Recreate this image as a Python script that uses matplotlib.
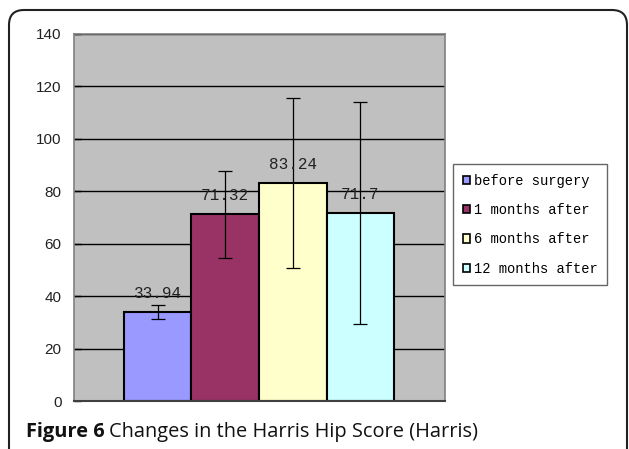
import matplotlib.pyplot as plt
from matplotlib.patches import FancyBboxPatch, Patch

# data
groups = ['before surgery', '1 months after', '6 months after', '12 months after']
means = [33.94, 71.32, 83.24, 71.7]
errors = [2.8, 16.6, 32.4, 42.4]
labels = ['33.94', '71.32', '83.24', '71.7']
colors = ['#9999FF', '#993366', '#FFFFCC', '#CCFFFF']
yticks = [0, 20, 40, 60, 80, 100, 120, 140]

fig = plt.figure(figsize=(6.29, 4.49), dpi=100)
ax = fig.add_axes([0.1176, 0.1069, 0.590, 0.8174])
ax.set_facecolor('#C0C0C0')

xs = range(len(groups))
ax.set_axisbelow(True)
ax.bar(xs, means, width=1.0, color=colors, edgecolor='black', linewidth=1.5, zorder=2)
ax.errorbar(xs, means, yerr=errors, fmt='none', ecolor='black', elinewidth=0.9,
            capsize=5, capthick=0.9, zorder=3)

for x, m, lab in zip(xs, means, labels):
    ax.text(x, m + 4.2, lab, ha='center', va='bottom', family='Liberation Mono',
            fontsize=11.5, color='#222222', zorder=4)

ax.set_xlim(-1.24, 4.255)
ax.set_ylim(0, 140)
ax.set_yticks(yticks)
ax.set_xticks([])
ax.yaxis.grid(True, color='black', linewidth=1.0)
ax.tick_params(axis='y', direction='in', length=5, width=1, pad=9, labelsize=11,
               labelcolor='#222222')
for t in ax.get_yticklabels():
    t.set_family('Liberation Sans')
for s in ['top', 'right', 'left']:
    ax.spines[s].set_color('#808080')
    ax.spines[s].set_linewidth(1.2)
ax.spines['bottom'].set_color('#404040')
ax.spines['bottom'].set_linewidth(1.5)

handles = [Patch(facecolor=c, edgecolor='black', linewidth=1.2) for c in colors]
leg = fig.legend(handles, groups, loc='upper left', bbox_to_anchor=(0.720, 0.635),
                 prop={'family': 'Liberation Mono', 'size': 9.9}, frameon=True,
                 fancybox=False, edgecolor='#404040', handlelength=0.55,
                 handleheight=0.55, handletextpad=0.25, labelspacing=1.12,
                 borderpad=0.7, borderaxespad=0)
leg.get_frame().set_linewidth(1.0)

# rounded outer frame
frame = FancyBboxPatch((0.09, -0.3), 6.18, 4.69,
                       boxstyle='round,pad=0,rounding_size=0.15',
                       transform=fig.dpi_scale_trans, facecolor='none',
                       edgecolor='#222222', linewidth=1.5)
fig.patches.append(frame)

# caption
t1 = fig.text(0.26 / 6.29, 0.027, 'Figure 6', fontsize=14.4, fontweight='bold',
              family='Open Sans', va='baseline', color='#111111')
fig.canvas.draw()
bb = t1.get_window_extent(renderer=fig.canvas.get_renderer())
x2 = (bb.x1 + 4) / fig.bbox.width
fig.text(x2, 0.027, 'Changes in the Harris Hip Score (Harris)', fontsize=14.4,
         family='Open Sans', va='baseline', color='#111111')

fig.savefig('out.png', dpi=100)
